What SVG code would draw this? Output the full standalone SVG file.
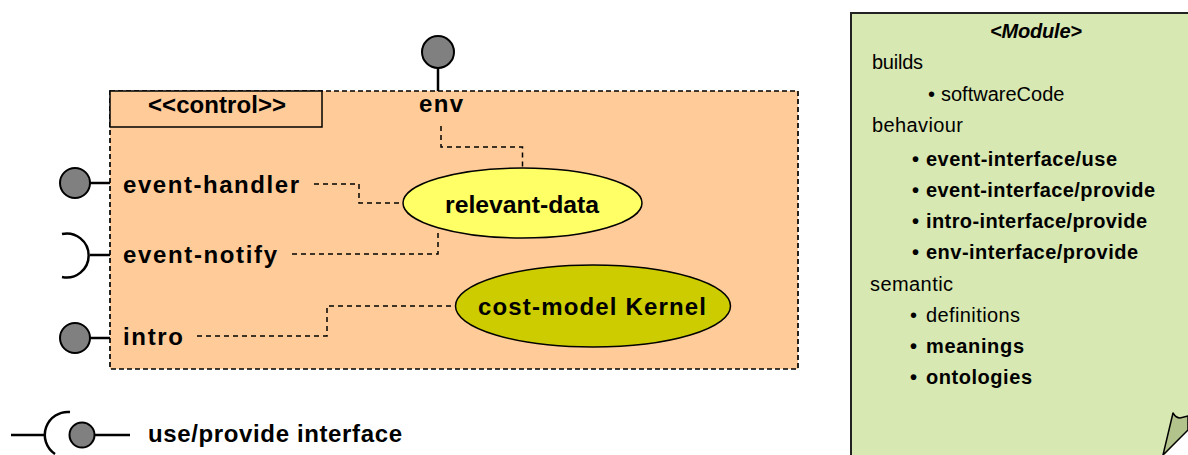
<svg xmlns="http://www.w3.org/2000/svg" width="1188" height="455" viewBox="0 0 1188 455">
  <style>
    .lbl { font-family: "Liberation Sans", Arial, sans-serif; font-weight: bold; font-size: 24px; fill: #000; }
    .note { font-family: "Liberation Sans", Arial, sans-serif; font-size: 20px; fill: #000; }
    .noteb { font-family: "Liberation Sans", Arial, sans-serif; font-size: 20px; font-weight: bold; fill: #000; }
    .ball { fill: #808080; stroke: #000; stroke-width: 2; }
    .stem { stroke: #000; stroke-width: 2.5; fill: none; }
    .dash { stroke: #000; stroke-width: 1.5; stroke-dasharray: 5 4; fill: none; }
  </style>

  <!-- component frame -->
  <g id="control-component">
    <rect x="110" y="91" width="688" height="278" fill="#FFCC99" stroke="#000" stroke-width="1.7" stroke-dasharray="5 3"/>
    <rect x="110" y="91" width="212" height="36" fill="#FFCC99" stroke="#000" stroke-width="1.5"/>
    <text class="lbl" x="148" y="113" font-size="19" textLength="138">&lt;&lt;control&gt;&gt;</text>
  </g>

  <!-- ports -->
  <g id="port-env">
    <line class="stem" x1="438" y1="68" x2="438" y2="91"/>
    <circle class="ball" cx="438" cy="52" r="16"/>
    <text class="lbl" x="419" y="112" textLength="44">env</text>
  </g>
  <g id="port-event-handler">
    <line class="stem" x1="89" y1="183" x2="110" y2="183"/>
    <circle class="ball" cx="75" cy="183" r="15"/>
    <text class="lbl" x="123" y="193" textLength="176">event-handler</text>
  </g>
  <g id="port-event-notify">
    <path class="stem" d="M62,234 A22,22 0 1 1 62,277"/>
    <line class="stem" x1="90" y1="255" x2="110" y2="255"/>
    <text class="lbl" x="123" y="263" textLength="154">event-notify</text>
  </g>
  <g id="port-intro">
    <line class="stem" x1="89" y1="338" x2="110" y2="338"/>
    <circle class="ball" cx="75" cy="338" r="15"/>
    <text class="lbl" x="123" y="345" textLength="60">intro</text>
  </g>

  <!-- internal parts -->
  <g id="relevant-data">
    <ellipse cx="522.5" cy="203" rx="119.5" ry="35" fill="#FFFF66" stroke="#000" stroke-width="1.5"/>
    <text class="lbl" x="445" y="213" textLength="154" lengthAdjust="spacingAndGlyphs">relevant-data</text>
  </g>
  <g id="cost-model-kernel">
    <ellipse cx="593" cy="306" rx="137.5" ry="41" fill="#CCCC00" stroke="#000" stroke-width="1.5"/>
    <text class="lbl" x="478" y="315" textLength="228">cost-model Kernel</text>
  </g>

  <!-- connectors -->
  <g id="connectors">
    <polyline class="dash" points="441,126 441,147 522.5,147 522.5,168"/>
    <polyline class="dash" points="314,184 359,184 359,203 403,203"/>
    <polyline class="dash" points="292,254 438,254 438,231"/>
    <polyline class="dash" points="197,336 327,336 327,306 456,306"/>
  </g>

  <!-- legend -->
  <g id="legend">
    <line class="stem" x1="11" y1="435" x2="46" y2="435" stroke-width="2"/>
    <path class="stem" d="M70,412 A23,23 0 0 0 55,454" stroke-width="2"/>
    <circle class="ball" cx="82" cy="435" r="12.5"/>
    <line class="stem" x1="94" y1="435" x2="130" y2="435" stroke-width="2"/>
    <text class="lbl" x="148" y="442" font-size="22" textLength="254">use/provide interface</text>
  </g>

  <!-- module note -->
  <g id="module-note">
    <rect x="851" y="13" width="345" height="450" fill="#D8E8B2" stroke="#222" stroke-width="2"/>
    <polygon points="1165,455 1188,430 1188,455" fill="#FFFFFF"/>
    <path d="M1163,455 L1173,413 Q1176,418 1180,418 L1188,416 L1188,430 Z" fill="#B2C48C" stroke="#000" stroke-width="1.5" stroke-linejoin="round"/>
    <text class="noteb" x="990" y="38" font-style="italic" textLength="92">&lt;Module&gt;</text>
    <text class="note" x="872" y="69" textLength="51">builds</text>
    <text class="note" x="928" y="101">•</text>
    <text class="note" x="941" y="101" font-size="19">softwareCode</text>
    <text class="note" x="872" y="132" textLength="91">behaviour</text>
    <text class="noteb" x="912" y="166">•</text>
    <text class="noteb" x="926" y="166" textLength="191">event-interface/use</text>
    <text class="noteb" x="912" y="197">•</text>
    <text class="noteb" x="926" y="197" textLength="229">event-interface/provide</text>
    <text class="noteb" x="912" y="228">•</text>
    <text class="noteb" x="926" y="228" textLength="221">intro-interface/provide</text>
    <text class="noteb" x="912" y="259">•</text>
    <text class="noteb" x="926" y="259" textLength="212">env-interface/provide</text>
    <text class="note" x="870" y="291" textLength="83">semantic</text>
    <text class="note" x="910" y="322">•</text>
    <text class="note" x="926" y="322" textLength="94">definitions</text>
    <text class="noteb" x="910" y="353">•</text>
    <text class="noteb" x="926" y="353" textLength="98">meanings</text>
    <text class="noteb" x="910" y="384">•</text>
    <text class="noteb" x="926" y="384" textLength="106">ontologies</text>
  </g>
</svg>
